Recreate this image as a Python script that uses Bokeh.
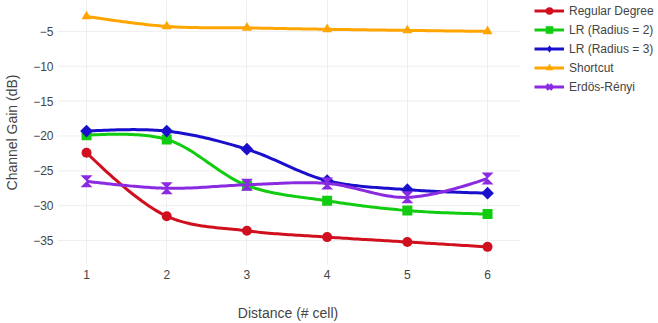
import numpy as np
from bokeh.plotting import figure
from bokeh.models import Legend, LegendItem, FixedTicker, Range1d
from bokeh.embed import file_html
from bokeh.resources import INLINE

# ---------------- data ----------------
distance = [1, 2, 3, 4, 5, 6]
regular_degree = [-22.4, -31.5, -33.6, -34.5, -35.2, -35.9]
lr_radius2 = [-19.9, -20.5, -27.1, -29.3, -30.7, -31.2]
lr_radius3 = [-19.3, -19.3, -21.9, -26.4, -27.7, -28.2]
shortcut = [-2.86, -4.29, -4.5, -4.7, -4.86, -5.0]
erdos_renyi = [-26.5, -27.5, -27.0, -26.8, -28.8, -26.1]

series_names = ["Regular Degree", "LR (Radius = 2)", "LR (Radius = 3)",
                "Shortcut", "Erdös-Rényi"]
x_ticks = [1, 2, 3, 4, 5, 6]
y_ticks = [-35, -30, -25, -20, -15, -10, -5]
y_tick_labels = ["\u221235", "\u221230", "\u221225", "\u221220",
                 "\u221215", "\u221210", "\u22125"]
x_title = "Distance (# cell)"
y_title = "Channel Gain (dB)"

# ---------------- layout / style ----------------
W, H = 658, 323
B_LEFT, B_TOP, B_BOTTOM = 57, 0, 58
PLOT_W = 463                      # width of the gridded plot area (px)
X0, X_PLOT_END = 0.638, 6.411     # x range of the gridded plot area
Y0, Y1 = -38.43, -0.571
FONT = "Liberation Sans"
TXT = "#444444"
GRID = "#eeeeee"
colors = ["#d0101e", "#12cc12", "#1a0fcc", "#ffa500", "#8a2be2"]
LW = 3

FW = W - B_LEFT                   # frame spans to the right edge (legend inside)
FH = H - B_TOP - B_BOTTOM
KX = PLOT_W / (X_PLOT_END - X0)   # px per x unit
KY = FH / (Y1 - Y0)               # px per y unit
X1 = X0 + FW / KX

# the x title is centred on the whole frame; trailing em spaces (14px each)
# move its visible part back over the centre of the gridded plot area
EM_PAD = "\u2003" * 10


def make_tangent(p0, p1, p2, s):
    d1x, d1y = p0[0] - p1[0], p0[1] - p1[1]
    d2x, d2y = p2[0] - p1[0], p2[1] - p1[1]
    d1a = (d1x * d1x + d1y * d1y) ** 0.25
    d2a = (d2x * d2x + d2y * d2y) ** 0.25
    numx = (d2a * d2a * d1x - d1a * d1a * d2x) * s
    numy = (d2a * d2a * d1y - d1a * d1a * d2y) * s
    den1 = 3 * d2a * (d1a + d2a)
    den2 = 3 * d1a * (d1a + d2a)
    return ((p1[0] + numx / den1, p1[1] + numy / den1),
            (p1[0] - numx / den2, p1[1] - numy / den2))


def quad(a, c, b, n=30):
    t = np.linspace(0, 1, n)[1:]
    x = (1 - t) ** 2 * a[0] + 2 * (1 - t) * t * c[0] + t ** 2 * b[0]
    y = (1 - t) ** 2 * a[1] + 2 * (1 - t) * t * c[1] + t ** 2 * b[1]
    return list(zip(x, y))


def cubic(a, c1, c2, b, n=30):
    t = np.linspace(0, 1, n)[1:]
    x = ((1 - t) ** 3 * a[0] + 3 * (1 - t) ** 2 * t * c1[0]
         + 3 * (1 - t) * t ** 2 * c2[0] + t ** 3 * b[0])
    y = ((1 - t) ** 3 * a[1] + 3 * (1 - t) ** 2 * t * c1[1]
         + 3 * (1 - t) * t ** 2 * c2[1] + t ** 3 * b[1])
    return list(zip(x, y))


def spline(xs, ys, s=1.0):
    pts = [(x * KX, y * KY) for x, y in zip(xs, ys)]
    tg = [make_tangent(pts[i - 1], pts[i], pts[i + 1], s)
          for i in range(1, len(pts) - 1)]
    out = [pts[0]]
    out += quad(pts[0], tg[0][0], pts[1])
    for i in range(2, len(pts) - 1):
        out += cubic(pts[i - 1], tg[i - 2][1], tg[i - 1][0], pts[i])
    out += quad(pts[-2], tg[-1][1], pts[-1])
    return [p[0] / KX for p in out], [p[1] / KY for p in out]


p = figure(width=W, height=H, output_backend="svg", toolbar_location=None,
           x_range=Range1d(X0, X1), y_range=Range1d(Y0, Y1),
           min_border_left=B_LEFT, min_border_right=0,
           min_border_top=B_TOP, min_border_bottom=B_BOTTOM,
           background_fill_color="white", border_fill_color="white")
p.outline_line_color = None

for ax in (p.xaxis, p.yaxis):
    ax.axis_line_color = None
    ax.major_tick_line_color = None
    ax.minor_tick_line_color = None
    ax.major_tick_out = 0
    ax.major_tick_in = 0
    ax.minor_tick_out = 0
    ax.minor_tick_in = 0
    ax.major_label_text_font = FONT
    ax.major_label_text_font_size = "12px"
    ax.major_label_text_color = TXT
    ax.axis_label_text_font = FONT
    ax.axis_label_text_font_size = "14px"
    ax.axis_label_text_font_style = "normal"
    ax.axis_label_text_color = TXT

p.xaxis.ticker = FixedTicker(ticks=x_ticks)
p.xaxis.bounds = (X0, X_PLOT_END)
p.yaxis.ticker = FixedTicker(ticks=y_ticks)
p.yaxis.major_label_overrides = {t: l for t, l in zip(y_ticks, y_tick_labels)}
p.xaxis.axis_label = x_title + EM_PAD
p.yaxis.axis_label = y_title
p.xaxis.major_label_standoff = 5
p.xaxis.axis_label_standoff = 23
p.yaxis.major_label_standoff = 4
p.yaxis.axis_label_standoff = 10
p.xgrid.ticker = FixedTicker(ticks=x_ticks)
p.xgrid.grid_line_color = GRID
p.ygrid.visible = False
# horizontal grid lines limited to the plot area
p.segment(x0=[X0] * len(y_ticks), x1=[X_PLOT_END] * len(y_ticks),
          y0=y_ticks, y1=y_ticks, line_color=GRID, line_width=1)

all_series = [regular_degree, lr_radius2, lr_radius3, shortcut, erdos_renyi]
items = []
for k, (name, ys, col) in enumerate(zip(series_names, all_series, colors)):
    sx, sy = spline(distance, ys)
    ln = p.line(sx, sy, line_color=col, line_width=LW, line_join="round")
    if k == 0:
        mk = p.scatter(distance, ys, marker="circle", size=10, fill_color=col, line_color=None)
        leg = [ln, mk]
    elif k == 1:
        mk = p.scatter(distance, ys, marker="square", size=10, fill_color=col, line_color=None)
        leg = [ln, mk]
    elif k == 2:
        mk = p.scatter(distance, ys, marker="square", size=9, angle=np.pi / 4,
                       fill_color=col, line_color=None)
        lg = p.scatter(distance, ys, marker="diamond", size=10, fill_color=col,
                       line_color=None, visible=False)
        leg = [ln, lg]
    elif k == 3:
        mk = p.scatter(distance, ys, marker="triangle", size=10, fill_color=col, line_color=None)
        leg = [ln, mk]
    else:
        r = 6.0
        dx, dy = r / KX, r / KY
        xs = [[x + dx, x - dx, x + dx, x - dx] for x in distance]
        ys_ = [[y - dy, y - dy, y + dy, y + dy] for y in ys]
        p.patches(xs, ys_, fill_color=col, line_color=None)
        lg = p.scatter(distance, ys, marker="x", size=10, line_color=col,
                       line_width=3, visible=False)
        leg = [ln, lg]
    items.append(LegendItem(label=name, renderers=leg))

N_ITEMS = len(items)
GLYPH_H, SPACING, PAD = 19, 0, 1
LEG_H = N_ITEMS * GLYPH_H + (N_ITEMS - 1) * SPACING + 2 * PAD
LEG_X = PLOT_W + 15 - PAD
legend = Legend(items=items, location=(LEG_X, FH - LEG_H))
legend.glyph_width = 30
legend.glyph_height = GLYPH_H
legend.label_height = 14
legend.spacing = SPACING
legend.padding = PAD
legend.margin = 0
legend.label_standoff = 5
legend.label_text_font = FONT
legend.label_text_font_size = "12px"
legend.label_text_color = TXT
legend.border_line_color = None
legend.background_fill_alpha = 0
legend.inactive_fill_alpha = 0
p.add_layout(legend, "center")

open("out.html", "w").write(file_html(p, INLINE))
